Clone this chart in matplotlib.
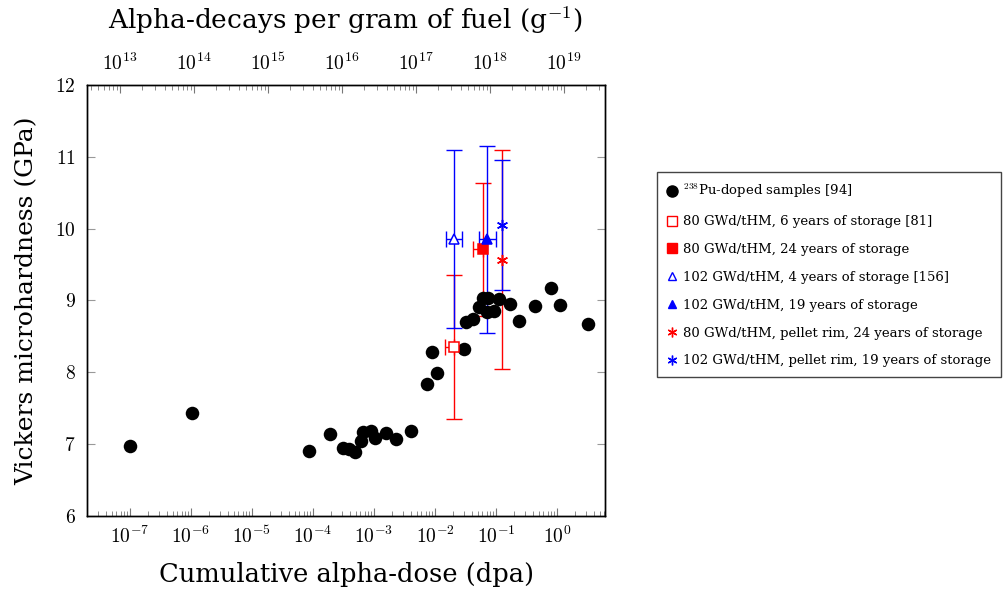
import numpy as np
import matplotlib
matplotlib.use("Agg")
import matplotlib.pyplot as plt
from matplotlib.lines import Line2D
from matplotlib.ticker import LogLocator, FuncFormatter, FixedLocator

plt.rcParams['font.family'] = ['DejaVu Serif']
plt.rcParams['mathtext.fontset'] = 'cm'

# 238Pu-doped samples: cumulative dose (dpa) and hardness (GPa)
pu_dose = [1.0e-7, 1.04e-6, 8.6e-5, 1.9e-4, 3.07e-4, 3.94e-4, 4.93e-4, 6.05e-4,
           6.68e-4, 8.83e-4, 1.05e-3, 1.57e-3, 2.30e-3, 4.08e-3, 7.48e-3, 1.07e-2,
           9.04e-3, 3.02e-2, 3.18e-2, 4.25e-2, 5.20e-2, 6.19e-2, 7.48e-2, 7.05e-2,
           9.27e-2, 0.112, 0.170, 0.241, 0.436, 0.798, 1.13, 3.26]
pu_hv = [6.97, 7.44, 6.90, 7.14, 6.95, 6.93, 6.89, 7.04,
         7.17, 7.19, 7.08, 7.15, 7.07, 7.18, 7.84, 7.99,
         8.28, 8.32, 8.70, 8.74, 8.91, 9.03, 9.03, 8.84,
         8.86, 9.02, 8.95, 8.72, 8.93, 9.17, 8.94, 8.67]

# spent fuel series: dose, hardness, hardness error, dose error (lower, upper)
labels = [r"80 GWd/tHM, 6 years of storage [81]",
          r"80 GWd/tHM, 24 years of storage",
          r"102 GWd/tHM, 4 years of storage [156]",
          r"102 GWd/tHM, 19 years of storage",
          r"80 GWd/tHM, pellet rim, 24 years of storage",
          r"102 GWd/tHM, pellet rim, 19 years of storage"]
fuel_dose = [2.05e-2, 6.05e-2, 2.05e-2, 7.19e-2, 0.124, 0.127]
fuel_hv = [8.35, 9.71, 9.86, 9.85, 9.57, 10.05]
fuel_hv_err = [1.0, 0.92, 1.24, 1.3, 1.52, 0.9]
fuel_dose_lo = [5.9e-3, 1.9e-2, 5.5e-3, 1.94e-2, 0, 0]
fuel_dose_hi = [0, 0, 7.6e-3, 2.67e-2, 0, 0]

colors = ['red', 'red', 'blue', 'blue', 'red', 'blue']
markers = ['s', 's', '^', '^', (6, 2, 0), (6, 2, 0)]
filled = [False, True, False, True, True, True]
cap_colors = ['#222222', 'red', '#222222', 'blue', '#333333', '#333333']
msizes = [7.5, 7.5, 7, 7, 8, 8]

fig = plt.figure(figsize=(10.06, 5.90), dpi=100)
ax = fig.add_axes([87 / 1006, 74 / 590, 518 / 1006, 431 / 590])

ax.scatter(pu_dose, pu_hv, s=95, color='black', zorder=5, linewidths=0)

for i in range(len(fuel_dose)):
    xerr = None
    if fuel_dose_lo[i] > 0 or fuel_dose_hi[i] > 0:
        xerr = [[fuel_dose_lo[i]], [fuel_dose_hi[i]]]
    c = colors[i]
    line, caps, bars = ax.errorbar([fuel_dose[i]], [fuel_hv[i]], yerr=[fuel_hv_err[i]],
                                   xerr=xerr, fmt='none', ecolor=c, elinewidth=1.0,
                                   capsize=5.5, capthick=1.0, zorder=3)
    for cp in caps:
        cp.set_color(cap_colors[i])
    ax.plot([fuel_dose[i]], [fuel_hv[i]], linestyle='none', marker=markers[i],
            markersize=msizes[i], markeredgecolor=c,
            markerfacecolor=c if filled[i] else 'white', markeredgewidth=1.1, zorder=6)

ax.set_xscale('log')
ax.set_xlim(10 ** -7.705, 10 ** 0.787)
ax.set_ylim(6, 12)
ax.set_yticks([6, 7, 8, 9, 10, 11, 12])
ax.yaxis.set_major_formatter(FuncFormatter(lambda v, p: r'$%d$' % v))
ax.xaxis.set_major_locator(FixedLocator([10.0 ** k for k in range(-7, 1)]))
ax.xaxis.set_minor_locator(LogLocator(base=10, subs=np.arange(2, 10), numticks=20))
ax.xaxis.set_major_formatter(FuncFormatter(lambda v, p: r'$10^{%d}$' % round(np.log10(v))))
ax.tick_params(axis='x', which='both', direction='in', top=False, labelsize=14, pad=7,
               color='#777777')
ax.tick_params(axis='x', which='major', length=6)
ax.tick_params(axis='x', which='minor', length=3.5)
ax.tick_params(axis='y', which='both', direction='in', left=True, right=True,
               labelsize=14, pad=8, length=6, color='#999999')
ax.set_xlabel("Cumulative alpha-dose (dpa)", fontsize=18.5, labelpad=11)
ax.set_ylabel("Vickers microhardness (GPa)", fontsize=18, labelpad=12)

# top axis: alpha-decays per gram of fuel
ax2 = ax.twiny()
ax2.set_xscale('log')
ax2.set_xlim(10 ** 12.554, 10 ** 19.554)
ax2.xaxis.set_major_locator(FixedLocator([10.0 ** k for k in range(13, 20)]))
ax2.xaxis.set_minor_locator(LogLocator(base=10, subs=np.arange(2, 10), numticks=20))
ax2.xaxis.set_major_formatter(FuncFormatter(lambda v, p: r'$10^{%d}$' % round(np.log10(v))))
ax2.tick_params(axis='x', which='both', direction='in', labelsize=14, pad=8, color='#777777')
ax2.tick_params(axis='x', which='major', length=6)
ax2.tick_params(axis='x', which='minor', length=3.5)
ax2.set_xlabel(r"Alpha-decays per gram of fuel (g$^{-1}$)", fontsize=19, labelpad=17)

for a in (ax, ax2):
    for s in a.spines.values():
        s.set_linewidth(1.0)

handles = [Line2D([], [], linestyle='none', marker='o', markersize=8, color='black')]
for i in range(len(labels)):
    handles.append(Line2D([], [], linestyle='none', marker=markers[i], markersize=msizes[i] - 1,
                          markeredgecolor=colors[i], markeredgewidth=1.0,
                          markerfacecolor=colors[i] if filled[i] else 'white'))
leg_labels = [r"$^{238}$Pu-doped samples [94]"] + labels
leg = fig.legend(handles, leg_labels, loc='upper left', bbox_to_anchor=(657 / 1006, 1 - 172 / 590),
                 fontsize=9.55, fancybox=False, edgecolor='#444444', framealpha=1,
                 handlelength=0.8, handletextpad=0.4, labelspacing=1.12, borderpad=0.75,
                 borderaxespad=0)
leg.get_frame().set_linewidth(1.0)

fig.savefig("out.png", dpi=100)
